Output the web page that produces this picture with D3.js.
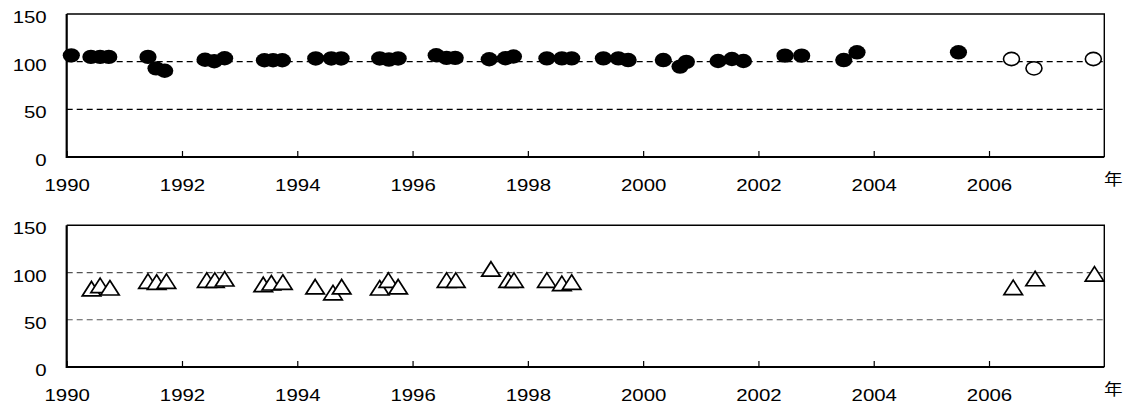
<!DOCTYPE html>
<html><head><meta charset="utf-8">
<script src="https://cdn.jsdelivr.net/npm/d3@7"></script>
<style>body{margin:0;background:#fff}</style>
</head><body><svg id="c" width="1128" height="407"></svg>
<script>
// ---- data ----
const yearTicks = [1990, 1992, 1994, 1996, 1998, 2000, 2002, 2004, 2006];
const valueTicks = [0, 50, 100, 150];
const gridValues = [50, 100];
const unitLabel = "年";

const filledYears = [1990.08, 1990.42, 1990.58, 1990.73, 1991.41, 1991.55, 1991.70, 1992.40, 1992.56, 1992.74,
  1993.43, 1993.58, 1993.74, 1994.32, 1994.59, 1994.76, 1995.43, 1995.59, 1995.75, 1996.41, 1996.59, 1996.74,
  1997.33, 1997.61, 1997.75, 1998.33, 1998.59, 1998.76, 1999.31, 1999.57, 1999.74, 2000.35, 2000.64, 2000.75,
  2001.30, 2001.54, 2001.74, 2002.46, 2002.75, 2003.48, 2003.71, 2005.47];
const filledValues = [106.6, 105, 105, 105, 105, 93, 90.5, 102, 100.5, 103.6,
  101.5, 101.5, 101.5, 103.4, 103.4, 103.4, 103.4, 102.2, 103.4, 106.7, 104, 104,
  102.5, 103.6, 105.4, 103.5, 103.5, 103.5, 103.5, 103.5, 101.7, 101.7, 94.8, 99.8,
  100.7, 102.8, 100.7, 106.3, 106.3, 101.7, 109.8, 109.8];

const openYears = [2006.39, 2006.78, 2007.81];
const openValues = [102.8, 93, 102.8];

const triYears = [1990.43, 1990.58, 1990.75, 1991.41, 1991.56, 1991.73, 1992.43, 1992.57, 1992.74,
  1993.41, 1993.55, 1993.75, 1994.31, 1994.62, 1994.77, 1995.43, 1995.58, 1995.75, 1996.59, 1996.75,
  1997.36, 1997.66, 1997.76, 1998.33, 1998.59, 1998.76, 2006.42, 2006.80, 2007.83];
const triValues = [82.9, 86.4, 83.9, 90.9, 89.9, 90.9, 92, 92, 93.4,
  87.4, 89.2, 89.9, 85, 78.7, 85, 83.9, 92, 85, 92, 92,
  103.8, 92, 92, 92, 88.5, 89.9, 84.3, 93.7, 98.6];

// ---- drawing ----
const svg = d3.select("#c");
const FONT = "'Liberation Sans', Arial, sans-serif";
const STRETCH = 1.2;
const x = d3.scaleLinear().domain([1990, 2008]).range([66.7, 1104.3]);

function stretch(sel) {
  sel.each(function () {
    const len = this.getComputedTextLength();
    d3.select(this).attr("textLength", len * STRETCH).attr("lengthAdjust", "spacingAndGlyphs");
  });
}

function panel(yRange, gridColor) {
  const y = d3.scaleLinear().domain([0, 150]).range(yRange);
  const g = svg.append("g");
  g.selectAll("line.grid").data(gridValues).join("line")
    .attr("x1", x(1990)).attr("x2", x(2008))
    .attr("y1", d => y(d)).attr("y2", d => y(d))
    .attr("stroke", gridColor).attr("stroke-width", 1.2)
    .attr("stroke-dasharray", "6,4");
  g.append("path")
    .attr("d", `M${x(1990)},${y(150)}H${x(2008)}V${y(0)}`)
    .attr("fill", "none").attr("stroke", "#000").attr("stroke-width", 1.4);
  const xa = g.append("g").attr("transform", `translate(0,${y(0)})`)
    .call(d3.axisBottom(x).tickValues(yearTicks).tickFormat(d3.format("d")).tickSize(-6).tickPadding(22));
  xa.select(".domain").remove();
  xa.selectAll(".tick line").attr("stroke", "#000").attr("stroke-width", 1.2);
  xa.selectAll("text").attr("font-family", FONT).attr("font-size", 17).attr("fill", "#000").call(stretch);
  const ya = g.append("g").attr("transform", `translate(${x(1990)},0)`)
    .call(d3.axisLeft(y).tickValues(valueTicks).tickSize(0).tickPadding(20));
  ya.select(".domain").remove();
  ya.selectAll("text").attr("font-family", FONT).attr("font-size", 17).attr("dy", "0.5em").attr("fill", "#000").call(stretch);
  g.append("path")
    .attr("d", `M${x(1990)},${y(150)}V${y(0)}H${x(2008)}`)
    .attr("fill", "none").attr("stroke", "#000").attr("stroke-width", 2.2);
  g.append("text").attr("x", x(2008) + 9).attr("y", y(0) + 28)
    .attr("text-anchor", "middle").attr("font-family", "'Noto Sans CJK JP', sans-serif")
    .attr("font-size", 15.5).attr("fill", "#000").text(unitLabel).call(stretch);
  return { g, y };
}

const topPanel = panel([157, 14], "#000");
const botPanel = panel([367, 225.3], "#555");

topPanel.g.selectAll("ellipse.f").data(filledYears.map((d, i) => [d, filledValues[i]])).join("ellipse")
  .attr("cx", d => x(d[0])).attr("cy", d => topPanel.y(d[1]))
  .attr("rx", 8.6).attr("ry", 7.2).attr("fill", "#000");
topPanel.g.selectAll("ellipse.o").data(openYears.map((d, i) => [d, openValues[i]])).join("ellipse")
  .attr("cx", d => x(d[0])).attr("cy", d => topPanel.y(d[1]))
  .attr("rx", 8).attr("ry", 6.6).attr("fill", "#fff").attr("stroke", "#000").attr("stroke-width", 1.6);
const tw = 18.5, th = 14.5;
botPanel.g.selectAll("path.t").data(triYears.map((d, i) => [d, triValues[i]])).join("path")
  .attr("d", `M0,${-th / 2}L${tw / 2},${th / 2}L${-tw / 2},${th / 2}Z`)
  .attr("transform", d => `translate(${x(d[0])},${botPanel.y(d[1])})`)
  .attr("fill", "#fff").attr("stroke", "#000").attr("stroke-width", 1.7).attr("stroke-linejoin", "miter");
</script>
</body></html>
